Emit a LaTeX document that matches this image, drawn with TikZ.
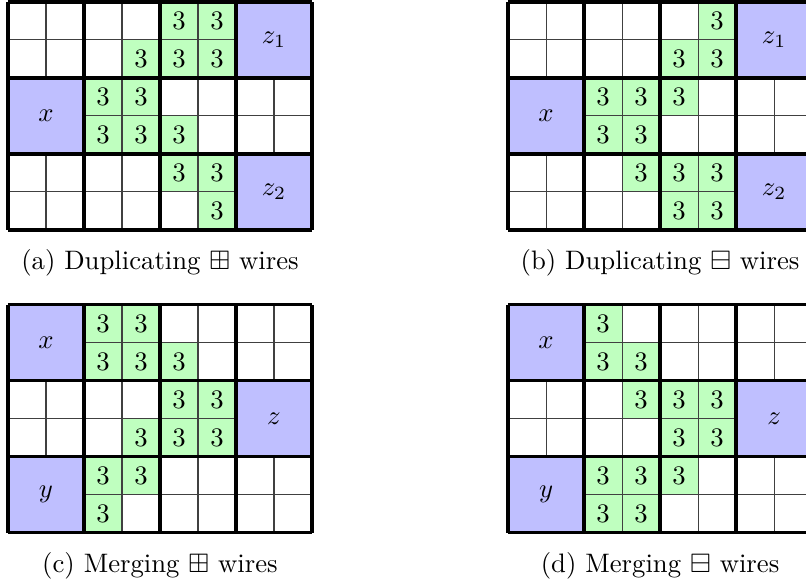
\documentclass[tikz,border=0pt]{standalone}
\usepackage{amsmath}
\usepackage{amssymb}
\usetikzlibrary{positioning}

\begin{document}
\begin{tikzpicture}[
  x=0.5cm, y=0.5cm,
  thingrid/.style={draw=black!75, line width=0.4pt},
  blockgrid/.style={draw=black, line width=1.2pt},
  three/.style={fill=green!25},
  wire/.style={fill=blue!25},
  caption/.style={font=\normalsize},
]
\useasboundingbox (0,0) rectangle (21.21,15.39);
\clip (0,0) rectangle (21.21,15.39);

%% (a) Duplicating boxplus wires
\begin{scope}[shift={(0.21,9.34)}]
  \foreach \c/\r in {4/0,5/0,3/1,4/1,5/1,2/2,3/2,2/3,3/3,4/3,4/4,5/4,5/5} {
    \fill[three] (\c,5-\r) rectangle ++(1,1);
    \node (a-\c-\r) at (\c+0.5,5.5-\r) {$3$};
  }
  \draw[thingrid] (0,0) grid[step=1] (8,6);
  \fill[wire] (0,2) rectangle (2,4);
  \fill[wire] (6,4) rectangle (8,6);
  \fill[wire] (6,0) rectangle (8,2);
  \node (ax)  at (1,3) {$x$};
  \node (az1) at (7,5) {$z_1$};
  \node (az2) at (7,1) {$z_2$};
  \draw[blockgrid] (0,0) grid[step=2] (8,6);
  \node[caption] (capa) at (4,-0.87) {(a) Duplicating $\boxplus$ wires};
\end{scope}

%% (b) Duplicating boxminus wires
\begin{scope}[shift={(13.37,9.34)}]
  \foreach \c/\r in {5/0,4/1,5/1,2/2,3/2,4/2,2/3,3/3,3/4,4/4,5/4,4/5,5/5} {
    \fill[three] (\c,5-\r) rectangle ++(1,1);
    \node (b-\c-\r) at (\c+0.5,5.5-\r) {$3$};
  }
  \draw[thingrid] (0,0) grid[step=1] (8,6);
  \fill[wire] (0,2) rectangle (2,4);
  \fill[wire] (6,4) rectangle (8,6);
  \fill[wire] (6,0) rectangle (8,2);
  \node (bx)  at (1,3) {$x$};
  \node (bz1) at (7,5) {$z_1$};
  \node (bz2) at (7,1) {$z_2$};
  \draw[blockgrid] (0,0) grid[step=2] (8,6);
  \node[caption] (capb) at (4,-0.87) {(b) Duplicating $\boxminus$ wires};
\end{scope}

%% (c) Merging boxplus wires
\begin{scope}[shift={(0.21,1.37)}]
  \foreach \c/\r in {2/0,3/0,2/1,3/1,4/1,4/2,5/2,3/3,4/3,5/3,2/4,3/4,2/5} {
    \fill[three] (\c,5-\r) rectangle ++(1,1);
    \node (c-\c-\r) at (\c+0.5,5.5-\r) {$3$};
  }
  \draw[thingrid] (0,0) grid[step=1] (8,6);
  \fill[wire] (0,4) rectangle (2,6);
  \fill[wire] (6,2) rectangle (8,4);
  \fill[wire] (0,0) rectangle (2,2);
  \node (cx) at (1,5) {$x$};
  \node (cz) at (7,3) {$z$};
  \node (cy) at (1,1) {$y$};
  \draw[blockgrid] (0,0) grid[step=2] (8,6);
  \node[caption] (capc) at (4,-0.87) {(c) Merging $\boxplus$ wires};
\end{scope}

%% (d) Merging boxminus wires
\begin{scope}[shift={(13.37,1.37)}]
  \foreach \c/\r in {2/0,2/1,3/1,3/2,4/2,5/2,4/3,5/3,2/4,3/4,4/4,2/5,3/5} {
    \fill[three] (\c,5-\r) rectangle ++(1,1);
    \node (d-\c-\r) at (\c+0.5,5.5-\r) {$3$};
  }
  \draw[thingrid] (0,0) grid[step=1] (8,6);
  \fill[wire] (0,4) rectangle (2,6);
  \fill[wire] (6,2) rectangle (8,4);
  \fill[wire] (0,0) rectangle (2,2);
  \node (dx) at (1,5) {$x$};
  \node (dz) at (7,3) {$z$};
  \node (dy) at (1,1) {$y$};
  \draw[blockgrid] (0,0) grid[step=2] (8,6);
  \node[caption] (capd) at (4,-0.87) {(d) Merging $\boxminus$ wires};
\end{scope}
\end{tikzpicture}
\end{document}
